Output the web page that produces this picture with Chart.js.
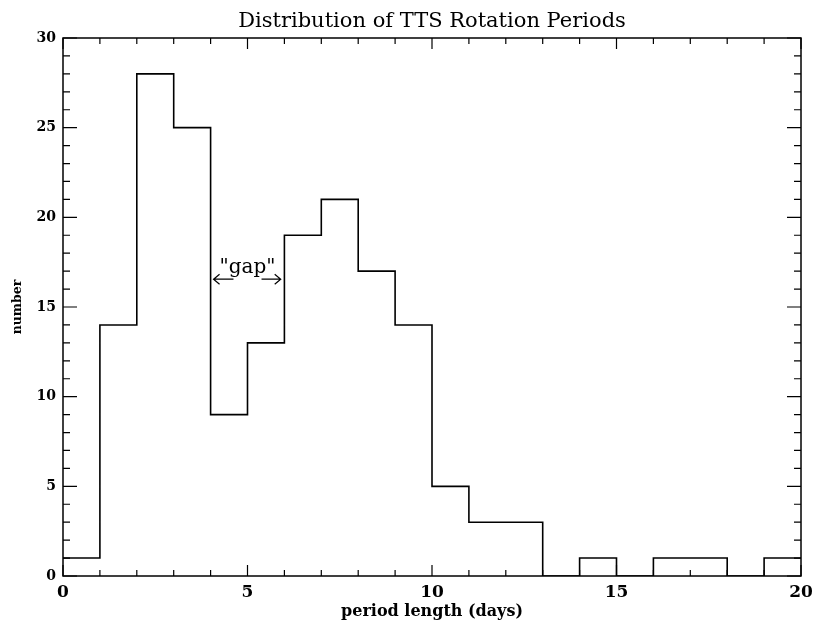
<!DOCTYPE html>
<html>
<head>
<meta charset="utf-8">
<title>Distribution of TTS Rotation Periods</title>
<script src="https://cdn.jsdelivr.net/npm/chart.js@4.4.1/dist/chart.umd.min.js"></script>
<style>
  html, body { margin: 0; padding: 0; background: #fff; }
  #wrap { width: 814px; height: 626px; }
</style>
</head>
<body>
<div id="wrap"><canvas id="periodChart"></canvas></div>
<script>
// --- DATA ---
// left edges of the 1-day bins, and the number of stars in each bin
const binEdges = [0, 1, 2, 3, 4, 5, 6, 7, 8, 9, 10, 11, 12, 13, 14, 15, 16, 17, 18, 19];
const binCounts = [1, 14, 28, 25, 9, 13, 19, 21, 17, 14, 5, 3, 3, 0, 1, 0, 1, 1, 0, 1];
const xMax = 20;
const yMax = 30;
const xTicks = [0, 5, 10, 15, 20];
const yTicks = [0, 5, 10, 15, 20, 25, 30];

// "gap" label between 4 and 6 days
const gapLabel = '"gap"';
const gapLabelAt = { x: 5.0, y: 16.9 };
const gapArrowLeft = [4.62, 4.08];   // from, to (head)
const gapArrowRight = [5.38, 5.90];
const gapArrowLevel = 16.55;

// step points: each bin starts at its left edge, last one closed at xMax
const stepPoints = binEdges.map((x, i) => ({ x: x, y: binCounts[i] }));
stepPoints.push({ x: xMax, y: binCounts[binCounts.length - 1] });

const serif = 'DejaVu Serif';
const ink = '#000';

// frame, inward tick marks on all four sides, and the "gap" note
const framePlugin = {
    id: 'frameTicks',
    afterDraw(chart) {
        const { ctx, chartArea: a, scales: { x, y } } = chart;
        ctx.save();
        ctx.strokeStyle = ink;
        ctx.lineWidth = 1.5;
        ctx.strokeRect(a.left, a.top, a.right - a.left, a.bottom - a.top);

        ctx.lineWidth = 1.2;
        ctx.beginPath();
        for (let v = 0; v <= xMax; v++) {
            const px = x.getPixelForValue(v);
            const len = (v % 5 === 0) ? 11 : 6;
            ctx.moveTo(px, a.bottom); ctx.lineTo(px, a.bottom - len);
            ctx.moveTo(px, a.top); ctx.lineTo(px, a.top + len);
        }
        for (let v = 0; v <= yMax; v++) {
            const py = y.getPixelForValue(v);
            const len = (v % 5 === 0) ? 14 : 7;
            ctx.moveTo(a.left, py); ctx.lineTo(a.left + len, py);
            ctx.moveTo(a.right, py); ctx.lineTo(a.right - len, py);
        }
        ctx.stroke();

        // "gap" text
        ctx.fillStyle = ink;
        ctx.font = '20px "' + serif + '"';
        ctx.textAlign = 'center';
        ctx.textBaseline = 'alphabetic';
        ctx.fillText(gapLabel, x.getPixelForValue(gapLabelAt.x), y.getPixelForValue(gapLabelAt.y));

        // arrows
        const ay = y.getPixelForValue(gapArrowLevel);
        [gapArrowLeft, gapArrowRight].forEach(([from, to]) => {
            const x0 = x.getPixelForValue(from);
            const x1 = x.getPixelForValue(to);
            const dir = Math.sign(x1 - x0);
            ctx.beginPath();
            ctx.lineWidth = 1.2;
            ctx.moveTo(x0, ay); ctx.lineTo(x1, ay);
            ctx.moveTo(x1 - dir * 6, ay - 5); ctx.lineTo(x1, ay); ctx.lineTo(x1 - dir * 6, ay + 5);
            ctx.stroke();
        });
        ctx.restore();
    }
};

const ctx = document.getElementById('periodChart').getContext('2d');
const periodChart = new Chart(ctx, {
    type: 'scatter',
    data: {
        datasets: [{
            label: 'number',
            data: stepPoints,
            showLine: true,
            stepped: 'before',
            borderColor: ink,
            borderWidth: 1.6,
            pointRadius: 0,
            fill: false
        }]
    },
    options: {
        responsive: true,
        maintainAspectRatio: false,
        devicePixelRatio: 1,
        animation: false,
        layout: { padding: { left: 0, right: 13, top: 0, bottom: 0 } },
        plugins: {
            legend: { display: false },
            tooltip: { enabled: false },
            title: {
                display: true,
                fullSize: false,
                text: 'Distribution of TTS Rotation Periods',
                color: ink,
                font: { family: serif, size: 21, weight: 'normal' },
                padding: { top: 8.5, bottom: 4.3 }
            }
        },
        scales: {
            x: {
                type: 'linear',
                min: 0,
                max: xMax,
                afterBuildTicks: s => { s.ticks = xTicks.map(v => ({ value: v })); },
                afterFit: s => { s.height = 50; s.paddingLeft = 0; s.paddingRight = 0; },
                ticks: { color: ink, font: { family: serif, size: 17, weight: 'bold' }, padding: 6, maxRotation: 0 },
                grid: { display: false, drawTicks: false },
                border: { display: false },
                title: {
                    display: true,
                    text: 'period length (days)',
                    color: ink,
                    font: { family: serif, size: 16, weight: 'bold' },
                    padding: { top: 0, bottom: 5 }
                }
            },
            y: {
                min: 0,
                max: yMax,
                afterBuildTicks: s => { s.ticks = yTicks.map(v => ({ value: v })); },
                afterFit: s => { s.width = 63; s.paddingTop = 0; s.paddingBottom = 0; },
                ticks: { color: ink, font: { family: serif, size: 14, weight: 'bold' }, padding: 7 },
                grid: { display: false, drawTicks: false },
                border: { display: false },
                title: {
                    display: true,
                    text: 'number',
                    color: ink,
                    font: { family: serif, size: 12.5, weight: 'bold' },
                    padding: { top: 10, bottom: 0 }
                }
            }
        }
    },
    plugins: [framePlugin]
});
</script>
</body>
</html>
